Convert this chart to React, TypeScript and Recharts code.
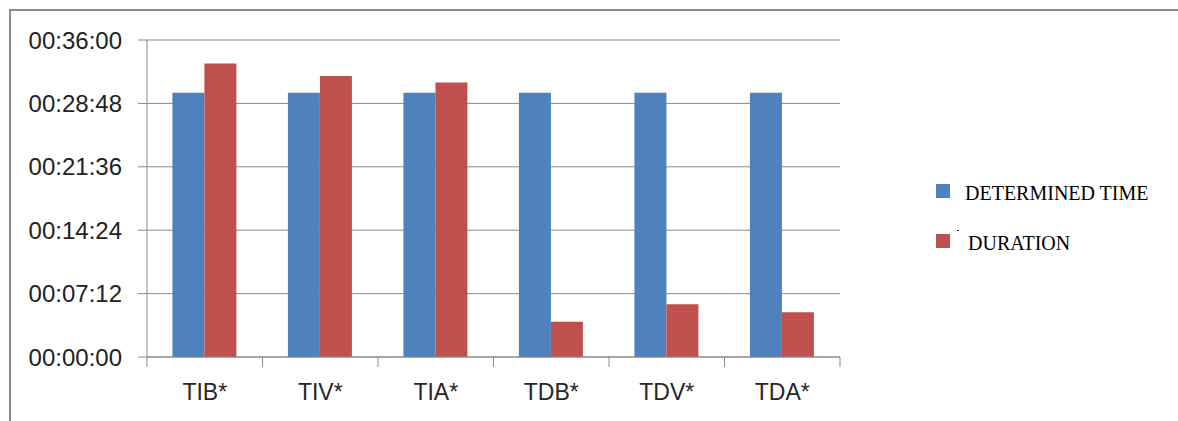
import React from 'react';
import { BarChart, Bar, XAxis, YAxis, CartesianGrid, Legend } from 'recharts';

const categories = ['TIB*', 'TIV*', 'TIA*', 'TDB*', 'TDV*', 'TDA*'];
// values in seconds
const determinedTime = [1800, 1800, 1800, 1800, 1800, 1800];
const duration = [2000, 1915, 1870, 240, 360, 305];
const yTicks = [0, 432, 864, 1296, 1728, 2160];
const seriesNames = ['DETERMINED TIME', 'DURATION'];
const seriesColors = ['#4F81BD', '#C0504D'];

const data = categories.map((c, i) => ({ name: c, determined: determinedTime[i], duration: duration[i] }));

const W = 1178;
const H = 421;
const MARGIN = { top: 40, right: 338, bottom: 24, left: 0 };
const YAXIS_W = 147;
const PLOT_W = W - MARGIN.right - MARGIN.left - YAXIS_W;
const BAND = PLOT_W / categories.length;
const AXIS_COLOR = '#8a8a8a';

const pad = (n: number) => (n < 10 ? '0' + n : '' + n);
const fmt = (s: number) => `${pad(Math.floor(s / 3600))}:${pad(Math.floor((s % 3600) / 60))}:${pad(s % 60)}`;

const XTick = (props: any) => {
  const { x, y, payload, index } = props;
  const half = BAND / 2;
  const last = index === categories.length - 1;
  return (
    <g>
      <line x1={x - half} y1={y - 10} x2={x - half} y2={y} stroke={AXIS_COLOR} strokeWidth={1} />
      {last && <line x1={x + half} y1={y - 10} x2={x + half} y2={y} stroke={AXIS_COLOR} strokeWidth={1} />}
      <text x={x} y={y + 33} textAnchor="middle" fontFamily="Liberation Sans" fontSize={23} fill="#262626">
        {payload.value}
      </text>
    </g>
  );
};

const renderLegend = () => (
  <div style={{ position: 'relative', fontFamily: 'Liberation Serif', fontSize: 20, color: '#000' }}>
    {seriesNames.map((n, i) => (
      <div key={n} style={{ display: 'flex', alignItems: 'center', height: 14, marginBottom: i === 0 ? 36 : 0, position: 'relative' }}>
        <div style={{ width: 14, height: 14, background: seriesColors[i] }} />
        {i === 1 && <div style={{ position: 'absolute', left: 21, top: -4, width: 2, height: 1, background: '#333' }} />}
        <span style={{ marginLeft: i === 0 ? 15 : 18, lineHeight: '14px', position: 'relative', top: 2 }}>{n}</span>
      </div>
    ))}
  </div>
);

export default function App() {
  return (
    <div style={{ position: 'relative', width: W, height: H, background: '#fff', overflow: 'hidden' }}>
      <style>{`body{margin:0;overflow:hidden;}`}</style>
      <div
        style={{
          position: 'absolute',
          left: 9,
          top: 9,
          width: W,
          height: H,
          borderTop: '2px solid #8c8c8c',
          borderLeft: '2px solid #8c8c8c',
        }}
      />
      <div style={{ position: 'absolute', left: 0, top: 0 }}>
        <BarChart width={W} height={H} data={data} margin={MARGIN} barCategoryGap="22%" barGap={0}>
          <CartesianGrid vertical={false} stroke={AXIS_COLOR} strokeWidth={1} />
          <XAxis
            dataKey="name"
            height={40}
            axisLine={{ stroke: AXIS_COLOR }}
            tickLine={false}
            tickSize={10}
            tickMargin={0}
            tick={<XTick />}
            interval={0}
          />
          <YAxis
            width={YAXIS_W}
            domain={[0, 2160]}
            ticks={yTicks}
            tickFormatter={fmt}
            axisLine={{ stroke: AXIS_COLOR }}
            tickLine={{ stroke: AXIS_COLOR }}
            tickSize={9}
            tickMargin={16}
            tick={{ fontFamily: 'Liberation Sans', fontSize: 24, fill: '#222' }}
            interval={0}
          />
          <Legend
            layout="vertical"
            align="center"
            verticalAlign="middle"
            content={renderLegend}
            wrapperStyle={{ left: 936, top: 184, width: 240 }}
          />
          <Bar dataKey="determined" name={seriesNames[0]} fill={seriesColors[0]} isAnimationActive={false} />
          <Bar dataKey="duration" name={seriesNames[1]} fill={seriesColors[1]} isAnimationActive={false} />
        </BarChart>
      </div>
    </div>
  );
}
